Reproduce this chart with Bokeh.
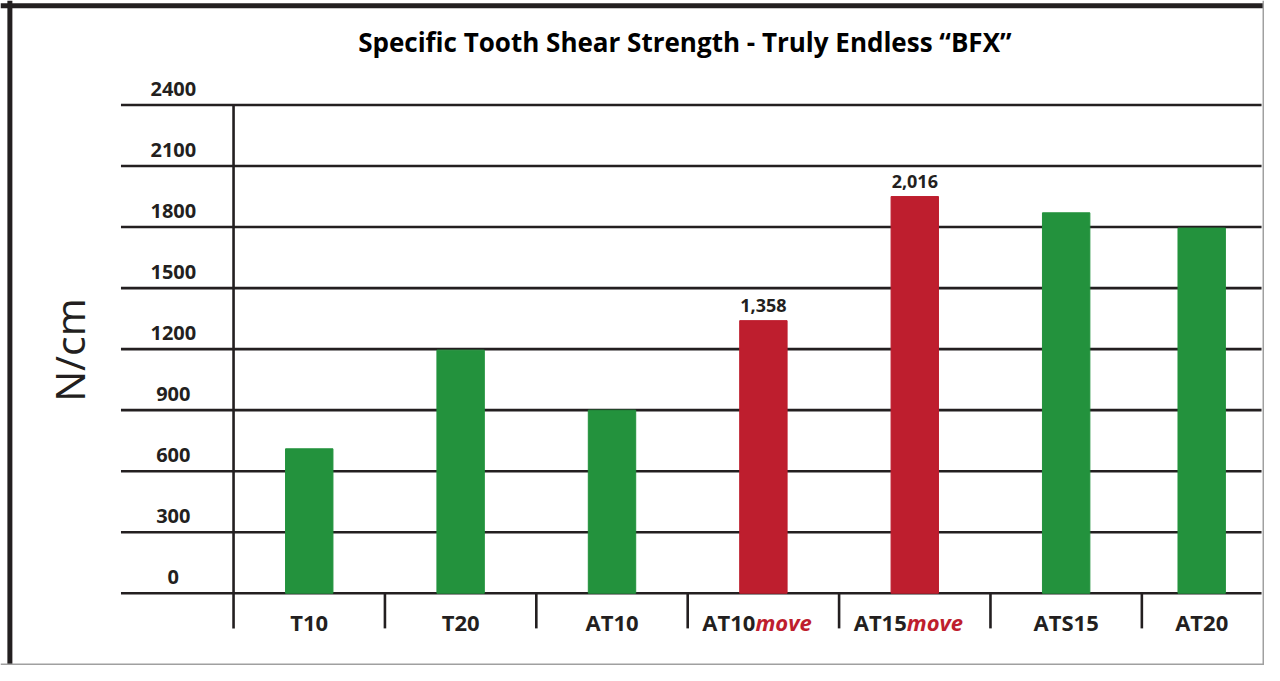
import math
from bokeh.plotting import figure
from bokeh.models import Range1d, ColumnDataSource, Span
from bokeh.core.properties import value
from bokeh.embed import file_html
from bokeh.resources import INLINE

# ---------------- data ----------------
title_text = "Specific Tooth Shear Strength - Truly Endless \u201cBFX\u201d"
y_title = "N/cm"
categories = ["T10", "T20", "AT10", "AT10", "AT15", "ATS15", "AT20"]
suffixes = ["", "", "", "move", "move", "", ""]
values = [710, 1195, 900, 1340, 1950, 1870, 1795]
value_labels = ["", "", "", "1,358", "2,016", "", ""]
highlight = [False, False, False, True, True, False, False]
y_ticks = [0, 300, 600, 900, 1200, 1500, 1800, 2100, 2400]
y_tick_labels = ["0", "300", "600", "900", "1200", "1500", "1800", "2100", "2400"]

# ---------------- style / layout ----------------
GREEN = "#23923d"
RED = "#be1e2e"
INK = "#231f20"
FONT = "Open Sans"

W, H = 1264, 665
SX, SY = W / 1280.0, H / 681.0          # reference px -> canvas px
PX_PER_CAT = 153.3 * SX
PX_PER_UNIT = 500.0 * SY / 2400.0
X_AXIS_PX = 236 * SX
Y_ZERO_PX = 607 * SY

x_start = -0.5 - X_AXIS_PX / PX_PER_CAT
x_end = x_start + W / PX_PER_CAT
y_start = -(H - Y_ZERO_PX) / PX_PER_UNIT
y_end = y_start + H / PX_PER_UNIT


def dx(px):
    return x_start + px * SX / PX_PER_CAT


def dy(py):
    return y_end - py * SY / PX_PER_UNIT


def up(px):
    return px * SY / PX_PER_UNIT


p = figure(width=W, height=H, x_range=Range1d(x_start, x_end),
           y_range=Range1d(y_start, y_end), output_backend="svg",
           toolbar_location=None, min_border=0,
           x_axis_location=None, y_axis_location=None)
p.grid.visible = False
p.background_fill_color = "white"
p.border_fill_color = "white"
p.outline_line_color = None

n = len(categories)
last_edge = min(n - 0.5, dx(1277))
centers = [float(i) for i in range(n - 1)] + [((n - 1.5) + last_edge) / 2]

# grid lines
p.segment(x0=[dx(122)] * len(y_ticks), x1=[dx(1277)] * len(y_ticks),
          y0=y_ticks, y1=y_ticks, line_color=INK, line_width=2.6)

# axis line and category separators
bottom_y = dy(643)
p.segment(x0=[-0.5], x1=[-0.5], y0=[bottom_y], y1=[y_ticks[-1]],
          line_color=INK, line_width=2.6)
seps = [i + 0.5 for i in range(n - 1)]
p.segment(x0=seps, x1=seps, y0=[bottom_y] * len(seps), y1=[0] * len(seps),
          line_color=INK, line_width=2.6)

# bars
colors = [RED if h else GREEN for h in highlight]
src = ColumnDataSource(dict(x=centers, top=values, color=colors,
                            lab=value_labels,
                            laby=[v + up(15) for v in values]))
p.vbar(x="x", top="top", width=48 / PX_PER_CAT * SX, bottom=0,
       color="color", source=src)

# value labels
p.text(x="x", y="laby", text="lab", source=src,
       text_align="center", text_baseline="middle",
       text_font=value(FONT), text_font_style="bold",
       text_font_size="18px", text_color=INK)

# y tick labels
p.text(x=[dx(175)] * len(y_ticks), y=[t + up(16.5) for t in y_ticks],
       text=y_tick_labels, text_align="center", text_baseline="middle",
       text_font=value(FONT), text_font_style="bold",
       text_font_size="20px", text_color=INK)

# category labels
lab_y = dy(636.5)
plain_x = [c for c, s in zip(centers, suffixes) if not s]
plain_t = [c for c, s in zip(categories, suffixes) if not s]
p.text(x=plain_x, y=[lab_y] * len(plain_x), text=plain_t,
       text_align="center", text_baseline="middle",
       text_font=value(FONT), text_font_style="bold",
       text_font_size="22px", text_color=INK)
suf_x = [c for c, s in zip(centers, suffixes) if s]
suf_base = [c for c, s in zip(categories, suffixes) if s]
suf_t = [s for s in suffixes if s]
p.text(x=suf_x, y=[lab_y] * len(suf_x), text=suf_base, x_offset=-8,
       text_align="right", text_baseline="middle",
       text_font=value(FONT), text_font_style="bold",
       text_font_size="22px", text_color=INK)
p.text(x=suf_x, y=[lab_y] * len(suf_x), text=suf_t, x_offset=-8,
       text_align="left", text_baseline="middle",
       text_font=value(FONT), text_font_style="bold italic",
       text_font_size="22px", text_color=RED)

# title
p.text(x=[dx(693)], y=[dy(42.5)], text=[title_text], text_align="center",
       text_baseline="middle", text_font=value(FONT),
       text_font_style="bold", text_font_size="26px", text_color="black")

# y axis title
p.text(x=[dx(69)], y=[dy(358)], text=[y_title], angle=math.pi / 2,
       text_align="center", text_baseline="middle", text_font=value(FONT),
       text_font_size="41px", text_color=INK)

# frame: thick dark top and left edges, thin grey right and bottom edges
p.add_layout(Span(location=dy(5.5), dimension="width", line_color=INK,
                  line_width=5))
p.add_layout(Span(location=dx(9.5), dimension="height", line_color=INK,
                  line_width=5))
p.add_layout(Span(location=dx(1279), dimension="height", line_color="#a0a0a0",
                  line_width=2))
p.add_layout(Span(location=dy(680), dimension="width", line_color="#a0a0a0",
                  line_width=2))

open("out.html", "w").write(file_html(p, INLINE))
